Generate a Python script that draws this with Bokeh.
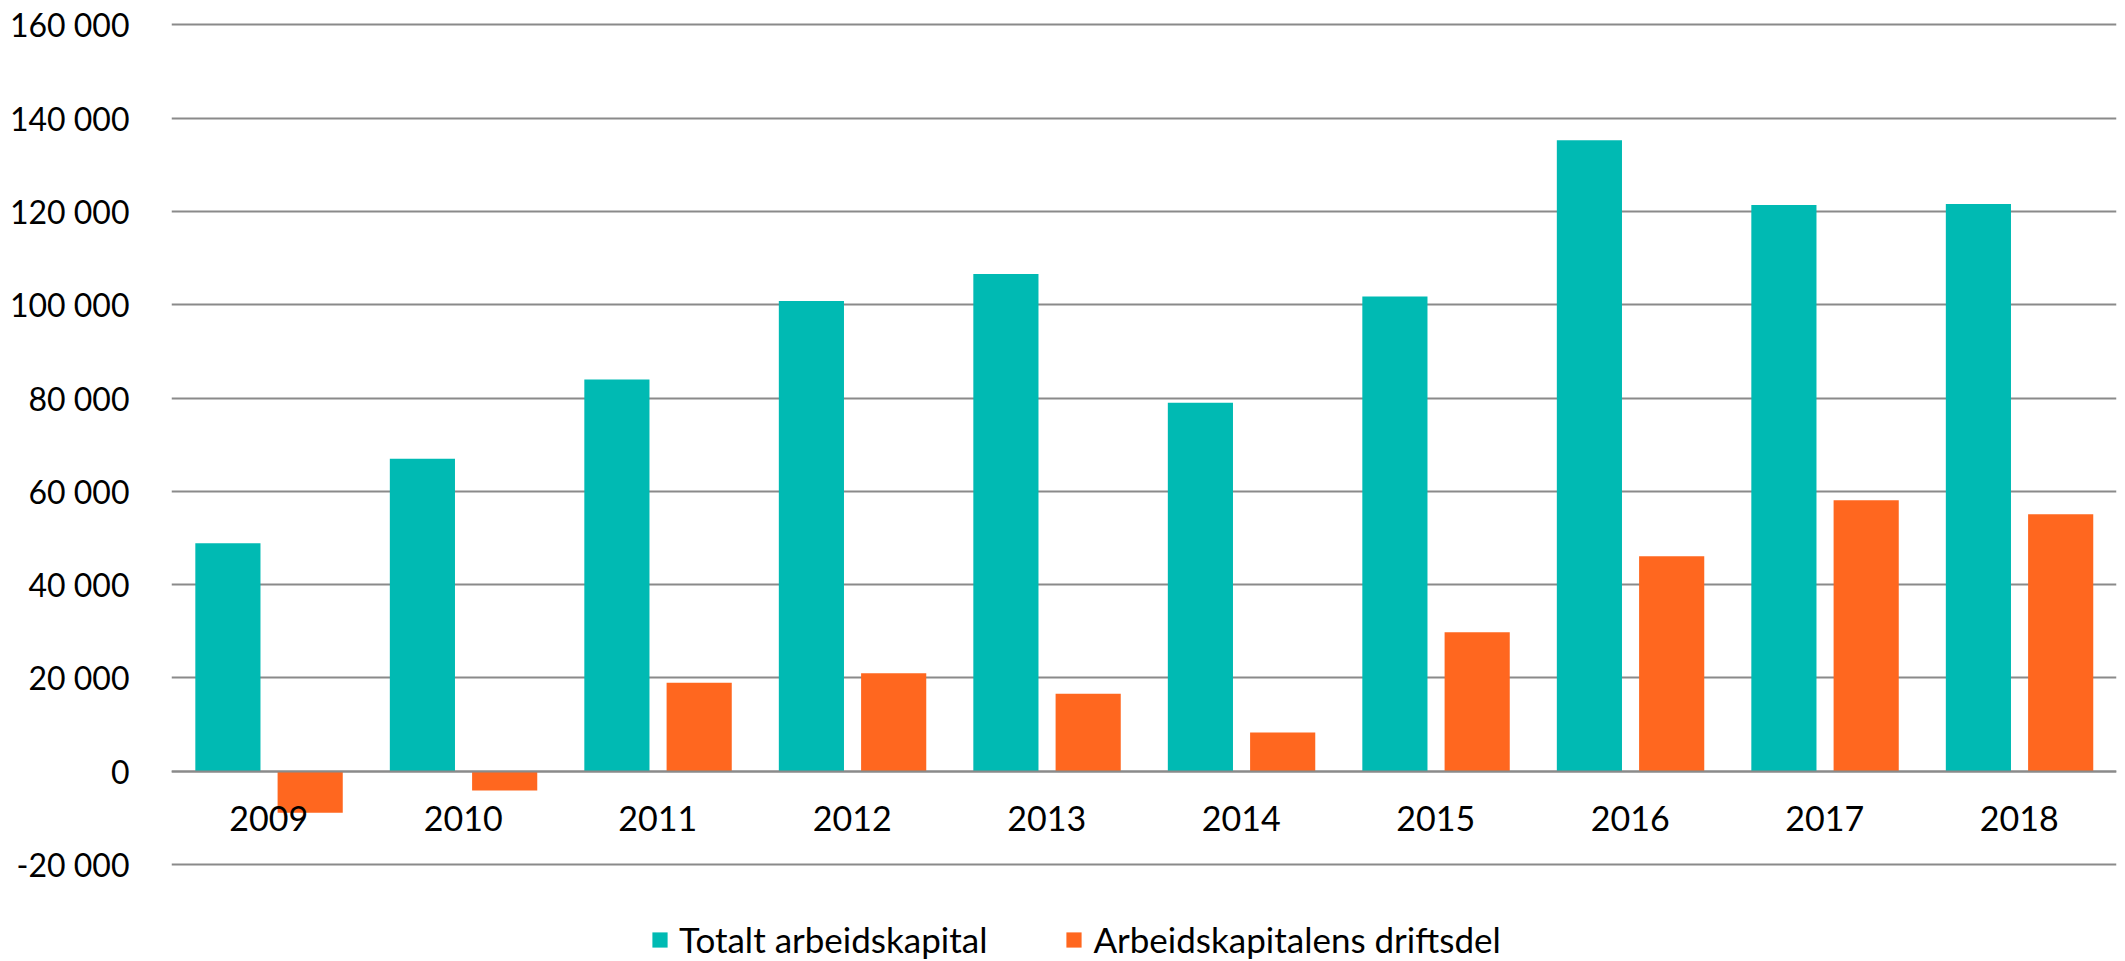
from bokeh.plotting import figure
from bokeh.models import (ColumnDataSource, FactorRange, Range1d, FixedTicker,
                          Legend, LegendItem)
from bokeh.transform import dodge
from bokeh.embed import file_html
from bokeh.resources import INLINE

years = ["2009", "2010", "2011", "2012", "2013", "2014", "2015", "2016", "2017", "2018"]
totalt = [48900, 67000, 84000, 100800, 106600, 79000, 101800, 135300, 121400, 121600]
drift = [-8900, -4100, 19000, 21000, 16600, 8300, 29800, 46100, 58100, 55100]
series_names = ["Totalt arbeidskapital", "Arbeidskapitalens driftsdel"]
colors = ["#00BAB3", "#FF671F"]
y_ticks = [-20000, 0, 20000, 40000, 60000, 80000, 100000, 120000, 140000, 160000]
y_tick_labels = ["-20 000", "0", "20 000", "40 000", "60 000", "80 000",
                 "100 000", "120 000", "140 000", "160 000"]

FONT = "Lato"
GRID = "#8a8a8a"

src = ColumnDataSource(dict(year=years, totalt=totalt, drift=drift))

p = figure(x_range=FactorRange(*years), y_range=Range1d(-40786, 160964),
           width=2118, height=961, output_backend="svg", toolbar_location=None,
           min_border_left=171, min_border_right=2, min_border_top=20,
           min_border_bottom=0)

r1 = p.vbar(x=dodge("year", -0.21, range=p.x_range), top="totalt", width=0.335,
            source=src, fill_color=colors[0], line_color=None)
r2 = p.vbar(x=dodge("year", 0.213, range=p.x_range), top="drift", width=0.335,
            source=src, fill_color=colors[1], line_color=None)

p.outline_line_color = None
p.xgrid.grid_line_color = None
p.ygrid.ticker = FixedTicker(ticks=y_ticks)
p.ygrid.grid_line_color = GRID
p.ygrid.grid_line_width = 2

p.yaxis.ticker = FixedTicker(ticks=y_ticks)
p.yaxis.major_label_overrides = dict(zip(y_ticks, y_tick_labels))
p.yaxis.axis_line_color = None
p.yaxis.major_tick_line_color = None
p.yaxis.minor_tick_line_color = None
p.yaxis.major_label_standoff = 36
p.yaxis.major_label_text_font = FONT
p.yaxis.major_label_text_font_size = "32px"
p.yaxis.major_label_text_color = "black"

p.xaxis.fixed_location = 0
p.xaxis.axis_line_color = GRID
p.xaxis.axis_line_width = 2
p.xaxis.major_tick_line_color = None
p.xaxis.minor_tick_line_color = None
p.xaxis.major_label_standoff = 29
p.xaxis.major_label_text_font = FONT
p.xaxis.major_label_text_font_size = "34px"
p.xaxis.major_label_text_color = "black"

legend = Legend(items=[LegendItem(label=series_names[0], renderers=[r1]),
                       LegendItem(label=series_names[1], renderers=[r2])],
                orientation="horizontal", location=(479, 1),
                glyph_width=19, glyph_height=19, label_standoff=10, spacing=77,
                padding=0, margin=0, border_line_color=None,
                background_fill_alpha=0,
                label_text_font=FONT, label_text_font_size="35px",
                label_text_color="black")
p.add_layout(legend)

open("out.html", "w").write(file_html(p, INLINE))
